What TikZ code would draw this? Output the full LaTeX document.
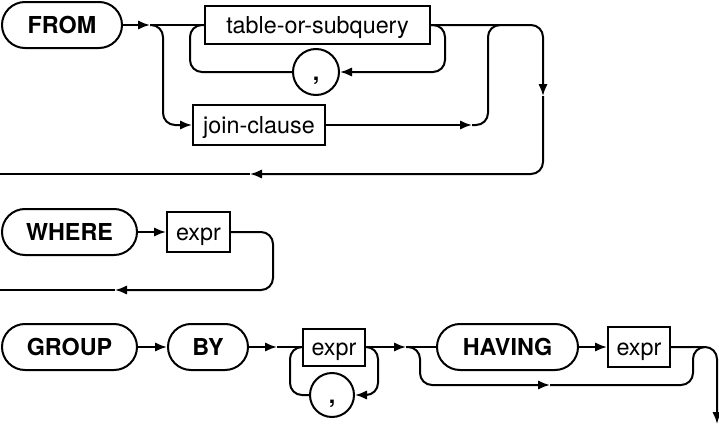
\documentclass[tikz,border=0pt]{standalone}
\usepackage{fontspec}
\setmainfont{TeX Gyre Heros}
\usetikzlibrary{arrows.meta}

\tikzset{every picture/.style={line width=1.5pt}}
\tikzset{
  kw/.style={draw, rounded corners=17.25pt, minimum height=34.5pt, inner sep=0pt, text height=12.6pt, text depth=0pt, font=\fontsize{17.5}{20}\selectfont\bfseries},
  rule/.style={draw, rectangle, minimum height=30pt, inner sep=0pt, text height=14pt, text depth=2pt, font=\fontsize{17.5}{20}\selectfont},
  punct/.style={draw, circle, inner sep=0pt, text height=14pt, text depth=2pt, font=\fontsize{17.5}{20}\selectfont\bfseries},
  arr/.style={-{Latex[length=9pt,width=7pt]}},
  turn/.style={rounded corners=9pt},
}

\begin{document}
\begin{tikzpicture}[x=0.75pt,y=0.75pt,yscale=-1]
\useasboundingbox (0,0) rectangle (719,425);

%FROM clause
\node[kw, minimum width=90pt] (from) at (62,25) {FROM};
\node[rule, minimum width=168.75pt, minimum height=28.5pt] (tos) at (317.5,25) {table-or-subquery};
\node[punct, minimum size=34.5pt] (comma1) at (316,72) {,};
\node[rule, minimum width=99pt] (join) at (259,125) {join-clause};
\coordinate (fromsplit) at (150,25);
\coordinate (joinend) at (472,125);
\coordinate (fromdown) at (543,96);
\coordinate (fromback) at (250,174);
\coordinate (fromout) at (0,174);

\draw[arr] (from) -- (fromsplit);
\draw (fromsplit) -- (tos);
\draw[turn,arr] (tos.east) -| (445,72) -- (comma1);
\draw[turn] (comma1.west) -| (190,25) -- (tos.west);
\draw[turn,arr] (fromsplit) -| (163,125) -- (join.west);
\draw[arr] (join.east) -- (joinend);
\draw[turn] (joinend) -| (488,25) -- (500,25);
\draw[turn,arr] (tos.east) -| (fromdown);
\draw[turn,arr] (fromdown) |- (fromback);
\draw (fromback) -- (fromout);

%WHERE clause
\node[kw, minimum width=101.25pt] (where) at (69.5,232) {WHERE};
\node[rule, minimum width=47.25pt] (expr1) at (198.5,232) {expr};
\coordinate (whereback) at (115,290);
\coordinate (whereout) at (0,290);

\draw[arr] (where) -- (expr1);
\draw[turn,arr] (expr1.east) -| (273,290) -- (whereback);
\draw (whereback) -- (whereout);

%GROUP BY clause
\node[kw, minimum width=101.25pt] (group) at (69.5,347) {GROUP};
\node[kw, minimum width=60pt] (by) at (208,347) {BY};
\node[rule, minimum width=46.5pt, minimum height=27.75pt] (expr2) at (334,347) {expr};
\node[punct, minimum size=33pt] (comma2) at (332,395) {,};
\node[kw, minimum width=105.75pt] (having) at (507.5,347) {HAVING};
\node[rule, minimum width=46.5pt] (expr3) at (639,347) {expr};
\coordinate (bysplit) at (277,347);
\coordinate (exprsplit) at (406,347);
\coordinate (skipmid) at (550,385);
\coordinate (groupout) at (717,424);

\draw[arr] (group) -- (by);
\draw[arr] (by) -- (bysplit);
\draw (bysplit) -- (expr2);
\draw[turn,arr] (expr2.east) -| (378,395) -- (comma2);
\draw[turn] (comma2.west) -| (290,347) -- (expr2.west);
\draw[arr] (expr2.east) -- (exprsplit);
\draw (exprsplit) -- (having);
\draw[turn,arr] (exprsplit) -| (420,385) -- (skipmid);
\draw[turn] (skipmid) -| (693,347) -- (705,347);
\draw[arr] (having) -- (expr3);
\draw[turn,arr] (expr3.east) -| (groupout);
\end{tikzpicture}
\end{document}
